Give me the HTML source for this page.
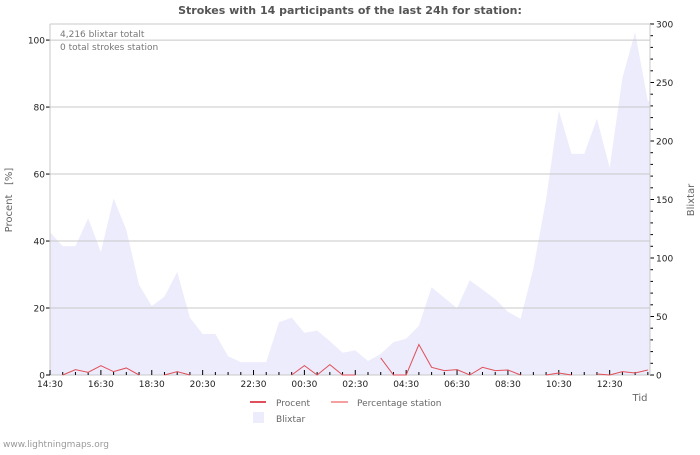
<!DOCTYPE html>
<html><head><meta charset="utf-8"><style>
body{margin:0;background:#fff;font-family:"Liberation Sans","DejaVu Sans",sans-serif}
svg text{font-family:"DejaVu Sans","Liberation Sans",sans-serif}
</style></head><body>
<svg id="c" width="700" height="450" xmlns="http://www.w3.org/2000/svg">
<text x="350" y="14" text-anchor="middle" font-size="11" font-weight="bold" fill="#555">Strokes with 14 participants of the last 24h for station:</text>
<g id="plot"></g>
<text x="60" y="37" font-size="9" fill="#777">4,216 blixtar totalt</text>
<text x="60" y="50" font-size="9" fill="#777">0 total strokes station</text>
<text transform="translate(12,200) rotate(-90)" text-anchor="middle" font-size="10" fill="#666" xml:space="preserve">Procent   [%]</text>
<text transform="translate(694,200) rotate(-90)" text-anchor="middle" font-size="10" fill="#666">Blixtar</text>
<text x="640" y="401" text-anchor="middle" font-size="10" fill="#666">Tid</text>
<g>
<g><line x1="250" y1="402" x2="266" y2="402" stroke="#e0505a" stroke-width="2"/><text x="276" y="406" font-size="9" fill="#666">Procent</text></g>
<g><line x1="331" y1="402" x2="348" y2="402" stroke="#f4a0a0" stroke-width="2"/><text x="357" y="406" font-size="9" fill="#666">Percentage station</text></g>
<g><rect x="253" y="412" width="11" height="11" fill="#ececfc"/><text x="276" y="422" font-size="9" fill="#666">Blixtar</text></g>
</g>
<text x="3" y="447" font-size="9" fill="#999">www.lightningmaps.org</text>
</svg>
<script>
const xLabels=["14:30","16:30","18:30","20:30","22:30","00:30","02:30","04:30","06:30","08:30","10:30","12:30"];
const blixtar=[122,110,110,134,105,151,124,77,59,67,88,49,35,35,16,11,11,11,45,49,36,38,29,19,21,12,18,28,31,42,75,66,57,81,73,65,54,48,91,150,226,189,189,219,177,254,293,234];
const procent=[null,0,1.6,0.8,2.8,1,2.1,0,null,0,1,0,null,null,null,null,null,null,null,0,2.8,0,3.1,0,0,null,5.1,0,0,9.1,2.3,1.3,1.6,0,2.3,1.3,1.5,0,null,0,0.6,0,null,0.3,0,1,0.6,1.5];
const leftTicks=[0,20,40,60,80,100];
const rightTicks=[0,50,100,150,200,250,300];
const L=50,R=650,T=24,B=375,step=12.72;
const xs=i=>L+i*step;
const yL=v=>B-v*(B-T)/104.8;
const yR=v=>B-v*(B-T)/300;
const NS="http://www.w3.org/2000/svg";
const g=document.getElementById('plot');
function mk(t,a){const e=document.createElementNS(NS,t);for(const k in a)e.setAttribute(k,a[k]);g.appendChild(e);return e;}
let d=`M${L},${B}`;blixtar.forEach((v,i)=>{d+=` L${Math.min(xs(i),R)},${yR(v)}`;});d+=` L${R},${yR(blixtar[blixtar.length-1])} L${R},${B} Z`;
const area=mk('path',{d:d,fill:'#ececfc'});


leftTicks.forEach(v=>{
 const gl=mk('line',{x1:L,x2:R,y1:yL(v),y2:yL(v),stroke:'#c8c8c8','stroke-width':1});
 
 
 mk('line',{x1:L-4,x2:L,y1:yL(v),y2:yL(v),stroke:'#000'});
 const t=mk('text',{x:L-5,y:yL(v)+3.5,'text-anchor':'end','font-size':9,fill:'#222'});t.textContent=v;
 
 
});
for(let v=0;v<=300;v+=10){mk('line',{x1:R,x2:R+(v%50?3:4),y1:yR(v),y2:yR(v),stroke:'#000'});}
rightTicks.forEach(v=>{const t=mk('text',{x:R+6,y:yR(v)+3.5,'font-size':9,fill:'#222'});t.textContent=v;
 
 });
mk('line',{x1:L,x2:L,y1:T,y2:B,stroke:'#c8c8c8'});
mk('line',{x1:R,x2:R,y1:T,y2:B,stroke:'#c8c8c8'});
mk('line',{x1:L,x2:R,y1:T,y2:T,stroke:'#c8c8c8'});
mk('line',{x1:L,x2:R,y1:B,y2:B,stroke:'#c8c8c8'});
for(let i=0;i<=47;i++){mk('line',{x1:xs(i),x2:xs(i),y1:B,y2:B-(i%4?3:5),stroke:'#000'});}
xLabels.forEach((s,k)=>{const t=mk('text',{x:xs(k*4),y:B+12,'text-anchor':'middle','font-size':9,fill:'#222'});t.textContent=s;
 
 });
let seg='';procent.forEach((v,i)=>{if(v===null)return;seg+=(i>0&&procent[i-1]!==null?' L':' M')+xs(i)+','+yL(v);});
const pl=mk('path',{d:seg,fill:'none',stroke:'#e0505a','stroke-width':1});


</script>
</body></html>
